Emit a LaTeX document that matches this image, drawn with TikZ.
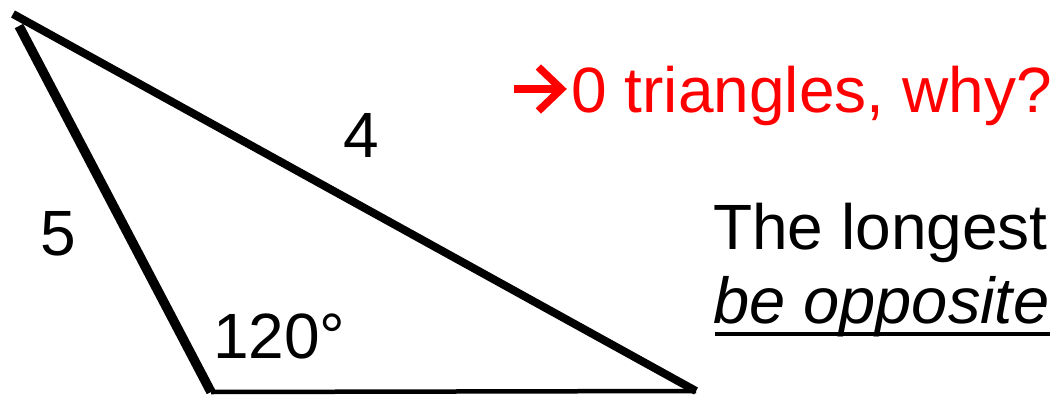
\documentclass[tikz,border=0pt]{standalone}
\usepackage{fontspec}
\setmainfont{Liberation Sans}
\usepackage{tikz}
\usetikzlibrary{calc}
\definecolor{alert}{RGB}{255,0,0}

\begin{document}
\begin{tikzpicture}[
  x=1pt, y=-1pt,
  txt/.style={inner sep=0pt, font=\fontsize{64}{70}\selectfont},
  note/.style={txt, anchor=base west},
  edge/.style={line width=#1, black},
  pointer/.style={alert, line width=7.5pt, miter limit=10}
]
\useasboundingbox (0,0) rectangle (1056,396);
% triangle
\coordinate (top) at (13,14);
\coordinate (topleft) at (19,26);
\coordinate (bl) at (211,392);
\coordinate (br) at (696,391);
\draw[edge=8pt] (top) -- (br);
\draw[edge=9.5pt] (topleft) -- (bl);
\draw[edge=4.5pt] (bl) -- (br);
% side and angle labels
\node[note] (four) at (343,157) {4};
\node[note] (five) at (40,255) {5};
\node[note] (angle) at (213,358) {120°};
% remarks
\node[txt, anchor=base east, text=alert] (why) at (1052,112) {0 triangles, why?};
\coordinate (tip) at ($(why.base west)+(-10,-23)$);
\draw[pointer] ($(tip)+(-47,0)$) -- ($(tip)+(-3,0)$);
\draw[pointer] ($(tip)+(-23,-22)$) -- (tip) -- ($(tip)+(-23,22)$);
\node[note] (longest) at (713,249) {The longest};
\node[note, font=\fontsize{65}{70}\selectfont\itshape] (opp) at (713,323) {be opposite};
\draw[line width=4.5pt] ($(opp.base west)+(2,11)$) -- ($(opp.base east)+(0,11)$);
\end{tikzpicture}
\end{document}
